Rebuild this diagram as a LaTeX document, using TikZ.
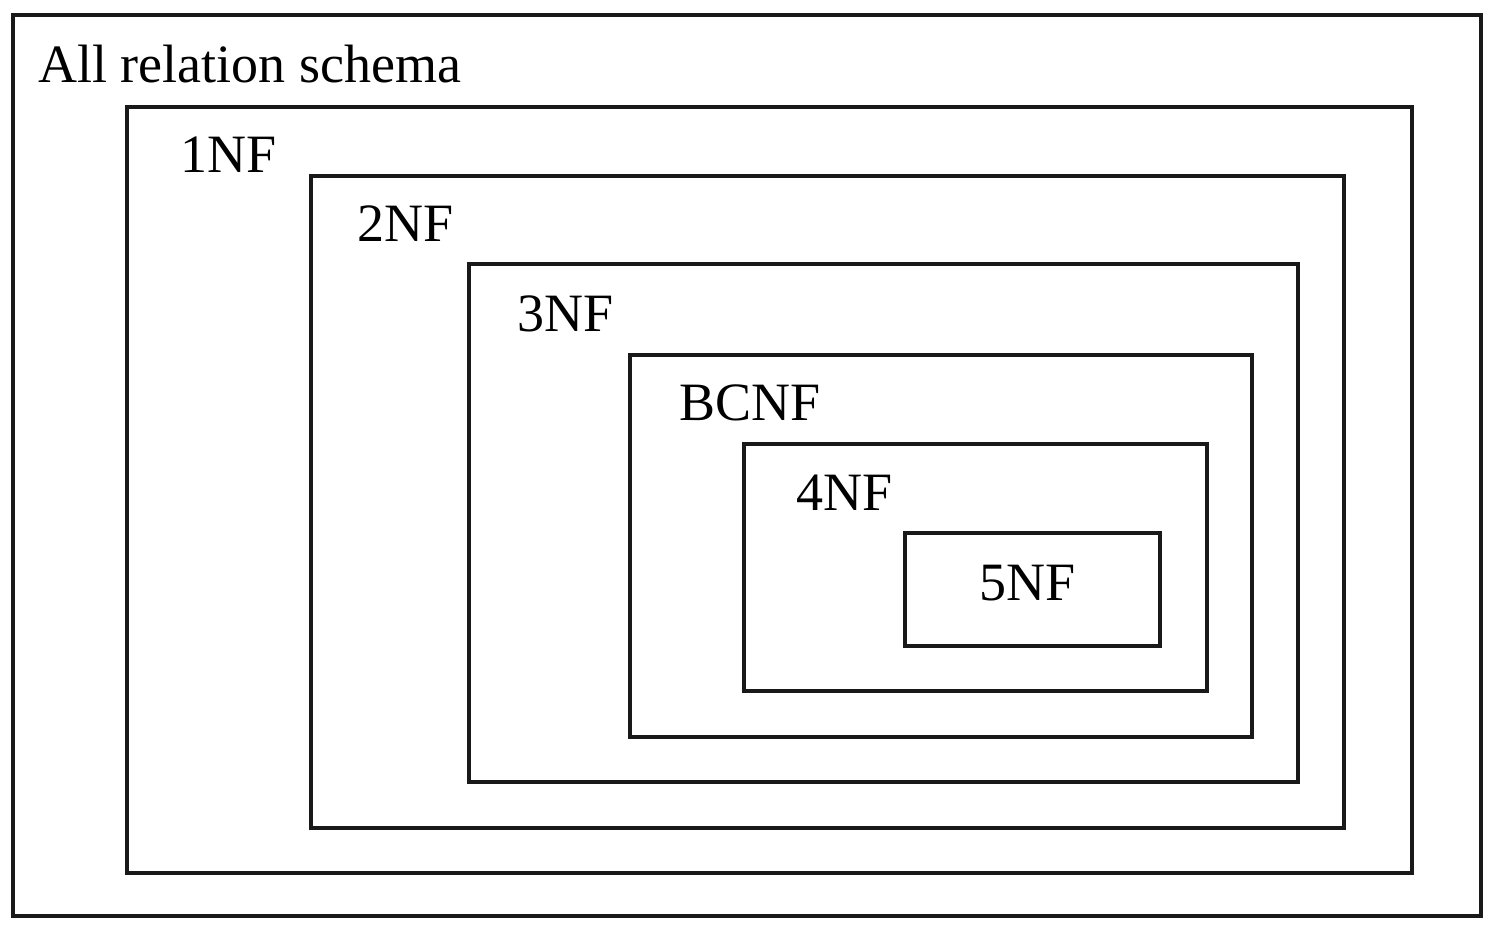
\documentclass[tikz,border=0pt]{standalone}
\usepackage{fontspec}
\setmainfont{Liberation Serif}
\usepackage{tikz}
\usetikzlibrary{positioning}

\begin{document}
\begin{tikzpicture}[
        x=0.5pt, y=-0.5pt, % 1 unidade = 1 pixel da figura
        caixa/.style={draw=black!90, line width=1.8pt},
        rotulo/.style={anchor=base west, inner sep=0pt, font=\fontsize{27}{32}\selectfont, text=black}
        ]
        \useasboundingbox (0, 0) rectangle (1500, 936);

        % Retangulos aninhados (do maior para o menor)
        \draw[caixa] (13, 15) rectangle (1481, 916);
        \draw[caixa] (127, 107) rectangle (1412, 873);
        \draw[caixa] (311, 176) rectangle (1344, 828);
        \draw[caixa] (469, 264) rectangle (1298, 782);
        \draw[caixa] (630, 355) rectangle (1252, 737);
        \draw[caixa] (744, 444) rectangle (1207, 691);
        \draw[caixa] (905, 533) rectangle (1160, 646);

        % Rotulos de cada forma normal
        \node[rotulo] (todos) at (38, 83) {All relation schema};
        \node[rotulo] (fn1) at (180, 173) {1NF};
        \node[rotulo] (fn2) at (357, 242) {2NF};
        \node[rotulo] (fn3) at (517, 332) {3NF};
        \node[rotulo] (bcnf) at (679, 421) {BCNF};
        \node[rotulo] (fn4) at (796, 510) {4NF};
        \node[rotulo] (fn5) at (979, 600) {5NF};

    \end{tikzpicture}
\end{document}
